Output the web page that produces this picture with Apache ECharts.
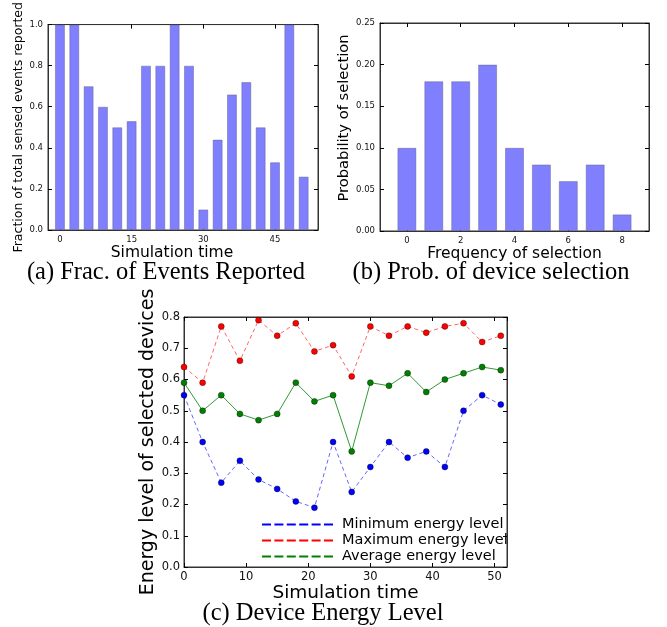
<!DOCTYPE html>
<html>
<head>
<meta charset="utf-8">
<script src="https://cdn.jsdelivr.net/npm/echarts@6/dist/echarts.min.js"></script>
<style>
html,body{margin:0;padding:0;background:#fff;}
#chart{width:667px;height:627px;}
</style>
</head>
<body>
<div id="chart"></div>
<script>
// ---- data ----
const timeSteps = [0, 3, 6, 9, 12, 15, 18, 21, 24, 27, 30, 33, 36, 39, 42, 45, 48, 51];
const fracReported = [1.0, 1.0, 0.70, 0.60, 0.50, 0.53, 0.80, 0.80, 1.0, 0.80, 0.10, 0.44, 0.66, 0.72, 0.50, 0.33, 1.0, 0.26];
const freqCategories = [0, 1, 2, 3, 4, 5, 6, 7, 8];
const probSelection = [0.10, 0.18, 0.18, 0.20, 0.10, 0.08, 0.06, 0.08, 0.02];
const minEnergy = [0.55, 0.40, 0.27, 0.34, 0.28, 0.25, 0.21, 0.19, 0.40, 0.24, 0.32, 0.40, 0.35, 0.37, 0.32, 0.50, 0.55, 0.52];
const maxEnergy = [0.64, 0.59, 0.77, 0.66, 0.79, 0.74, 0.78, 0.69, 0.71, 0.61, 0.77, 0.74, 0.77, 0.75, 0.77, 0.78, 0.72, 0.74];
const avgEnergy = [0.59, 0.50, 0.55, 0.49, 0.47, 0.49, 0.59, 0.53, 0.55, 0.37, 0.59, 0.58, 0.62, 0.56, 0.60, 0.62, 0.64, 0.63];
const xTicksA = [0, 15, 30, 45];
const xTicksB = [0, 2, 4, 6, 8];
const legendNames = ['Minimum energy level', 'Maximum energy level', 'Average energy level'];

const sans = 'DejaVu Sans';
const barColor = '#8080ff';

function pairs(xs, ys) { return xs.map((x, i) => [x, ys[i]]); }

const chart = echarts.init(document.getElementById('chart'));

const tickStyle = { show: true, inside: true, length: 4, lineStyle: { color: '#000', width: 1 } };
const lineStyle = { show: true, onZero: false, lineStyle: { color: '#333', width: 1 } };

function xPair(grid, min, max, opts) {
  const main = Object.assign({
    type: 'value', gridIndex: grid, min: min, max: max, position: 'bottom',
    axisLine: lineStyle, axisTick: tickStyle, splitLine: { show: false }
  }, opts);
  const top = {
    type: 'value', gridIndex: grid, min: min, max: max, position: 'top',
    axisLine: lineStyle, axisTick: Object.assign({}, tickStyle, opts.axisTick || {}),
    axisLabel: Object.assign({}, opts.axisLabel || {}, { show: false }),
    interval: opts.interval, splitLine: { show: false }
  };
  return [main, top];
}
function yPair(grid, min, max, opts) {
  const main = Object.assign({
    type: 'value', gridIndex: grid, min: min, max: max, position: 'left',
    axisLine: lineStyle, axisTick: tickStyle, splitLine: { show: false }
  }, opts);
  const right = {
    type: 'value', gridIndex: grid, min: min, max: max, position: 'right',
    interval: opts.interval,
    axisLine: lineStyle, axisTick: tickStyle, axisLabel: { show: false }, splitLine: { show: false }
  };
  return [main, right];
}

const xA = xPair(0, -2.5, 54, {
  axisTick: Object.assign({}, tickStyle, { customValues: xTicksA }),
  axisLabel: { customValues: xTicksA, fontFamily: sans, fontSize: 8.5, color: '#111', margin: 5 },
  name: 'Simulation time', nameLocation: 'middle', nameGap: 11,
  nameTextStyle: { fontFamily: sans, fontSize: 15.5, color: '#000', padding: [0, 22, 0, 0] }
});
const yA = yPair(0, 0, 1.0, {
  interval: 0.2,
  axisLabel: { fontFamily: sans, fontSize: 8.5, color: '#111', margin: 5, formatter: v => v.toFixed(1) },
  name: 'Fraction of total sensed events reported', nameLocation: 'middle', nameGap: 21,
  nameTextStyle: { fontFamily: sans, fontSize: 12.5, color: '#000' }
});
const xB = xPair(1, -1, 9, {
  axisTick: Object.assign({}, tickStyle, { customValues: xTicksB }),
  axisLabel: { customValues: xTicksB, fontFamily: sans, fontSize: 8.5, color: '#111', margin: 5 },
  name: 'Frequency of selection', nameLocation: 'middle', nameGap: 10,
  nameTextStyle: { fontFamily: sans, fontSize: 15.5, color: '#000' }
});
const yB = yPair(1, 0, 0.25, {
  interval: 0.05,
  axisLabel: { fontFamily: sans, fontSize: 8.5, color: '#111', margin: 5, formatter: v => v.toFixed(2) },
  name: 'Probability of selection', nameLocation: 'middle', nameGap: 26,
  nameTextStyle: { fontFamily: sans, fontSize: 14.7, color: '#000', padding: [0, 0, 0, 18] }
});
const xC = xPair(2, 0, 52, {
  interval: 10,
  axisLabel: { fontFamily: sans, fontSize: 11.5, color: '#111', margin: 4 },
  name: 'Simulation time', nameLocation: 'middle', nameGap: 14,
  nameTextStyle: { fontFamily: sans, fontSize: 18.5, color: '#000' }
});
const yC = yPair(2, 0, 0.8, {
  interval: 0.1,
  axisLabel: { fontFamily: sans, fontSize: 11.5, color: '#111', margin: 4, formatter: v => v.toFixed(1) },
  name: 'Energy level of selected devices', nameLocation: 'middle', nameGap: 24,
  nameTextStyle: { fontFamily: sans, fontSize: 19, color: '#000' }
});

function dashIcon() {
  let p = 'path://';
  const dash = 9, gap = 3.4;
  for (let i = 0; i < 6; i++) {
    const x0 = i * (dash + gap);
    p += 'M' + x0 + ',0L' + (x0 + dash) + ',0L' + (x0 + dash) + ',2L' + x0 + ',2Z';
  }
  return p;
}

function energySeries(name, data, color, dashed) {
  return {
    type: 'line', name: name, xAxisIndex: 4, yAxisIndex: 4,
    data: pairs(timeSteps, data),
    symbol: 'circle', symbolSize: 6,
    itemStyle: { color: color, borderColor: 'rgba(0,0,0,0.6)', borderWidth: 0.6 },
    lineStyle: { color: color, width: 1, opacity: dashed ? 0.6 : 0.8, type: dashed ? [4, 3] : 'solid' },
    emphasis: { disabled: true },
    z: 3
  };
}

const option = {
  animation: false,
  backgroundColor: '#fff',
  grid: [
    { left: 48, top: 20, width: 270, height: 210, show: true, borderColor: '#333', borderWidth: 1 },
    { left: 380, top: 23, width: 269, height: 208, show: true, borderColor: '#333', borderWidth: 1 },
    { left: 184, top: 317, width: 323, height: 250, show: true, borderColor: '#333', borderWidth: 1 }
  ],
  xAxis: [].concat(xA, xB, xC),
  yAxis: [].concat(yA, yB, yC),
  legend: {
    left: 257, top: 512, orient: 'vertical',
    itemWidth: 71, itemHeight: 2, itemGap: 1,
    itemStyle: { borderWidth: 0 },
    textStyle: { fontFamily: sans, fontSize: 14.5, color: '#000', padding: [0, 0, 0, 4], lineHeight: 15 },
    selectedMode: false,
    data: [
      { name: legendNames[0], icon: dashIcon(), itemStyle: { color: '#0000ff', borderWidth: 0 } },
      { name: legendNames[1], icon: dashIcon(), itemStyle: { color: '#ff0000', borderWidth: 0 } },
      { name: legendNames[2], icon: dashIcon(), itemStyle: { color: '#008000', borderWidth: 0 } }
    ]
  },
  series: [
    {
      type: 'bar', xAxisIndex: 0, yAxisIndex: 0,
      data: pairs(timeSteps, fracReported),
      barWidth: 10,
      itemStyle: { color: barColor, borderColor: 'rgba(90,90,140,0.45)', borderWidth: 1 },
      emphasis: { disabled: true }
    },
    {
      type: 'bar', xAxisIndex: 2, yAxisIndex: 2,
      data: pairs(freqCategories, probSelection),
      barWidth: 19,
      itemStyle: { color: barColor, borderColor: 'rgba(90,90,140,0.45)', borderWidth: 1 },
      emphasis: { disabled: true }
    },
    energySeries(legendNames[0], minEnergy, '#0000ff', true),
    energySeries(legendNames[1], maxEnergy, '#ff0000', true),
    energySeries(legendNames[2], avgEnergy, '#008000', false)
  ],
  graphic: [
    { type: 'text', style: { text: '(a) Frac. of Events Reported', x: 166, y: 273, textAlign: 'center', textVerticalAlign: 'middle', font: '24.5px "Liberation Serif"', fill: '#000' } },
    { type: 'text', style: { text: '(b) Prob. of device selection', x: 491, y: 273, textAlign: 'center', textVerticalAlign: 'middle', font: '24.5px "Liberation Serif"', fill: '#000' } },
    { type: 'text', style: { text: '(c) Device Energy Level', x: 323, y: 614, textAlign: 'center', textVerticalAlign: 'middle', font: '24.5px "Liberation Serif"', fill: '#000' } }
  ]
};

chart.setOption(option);
</script>
</body>
</html>
